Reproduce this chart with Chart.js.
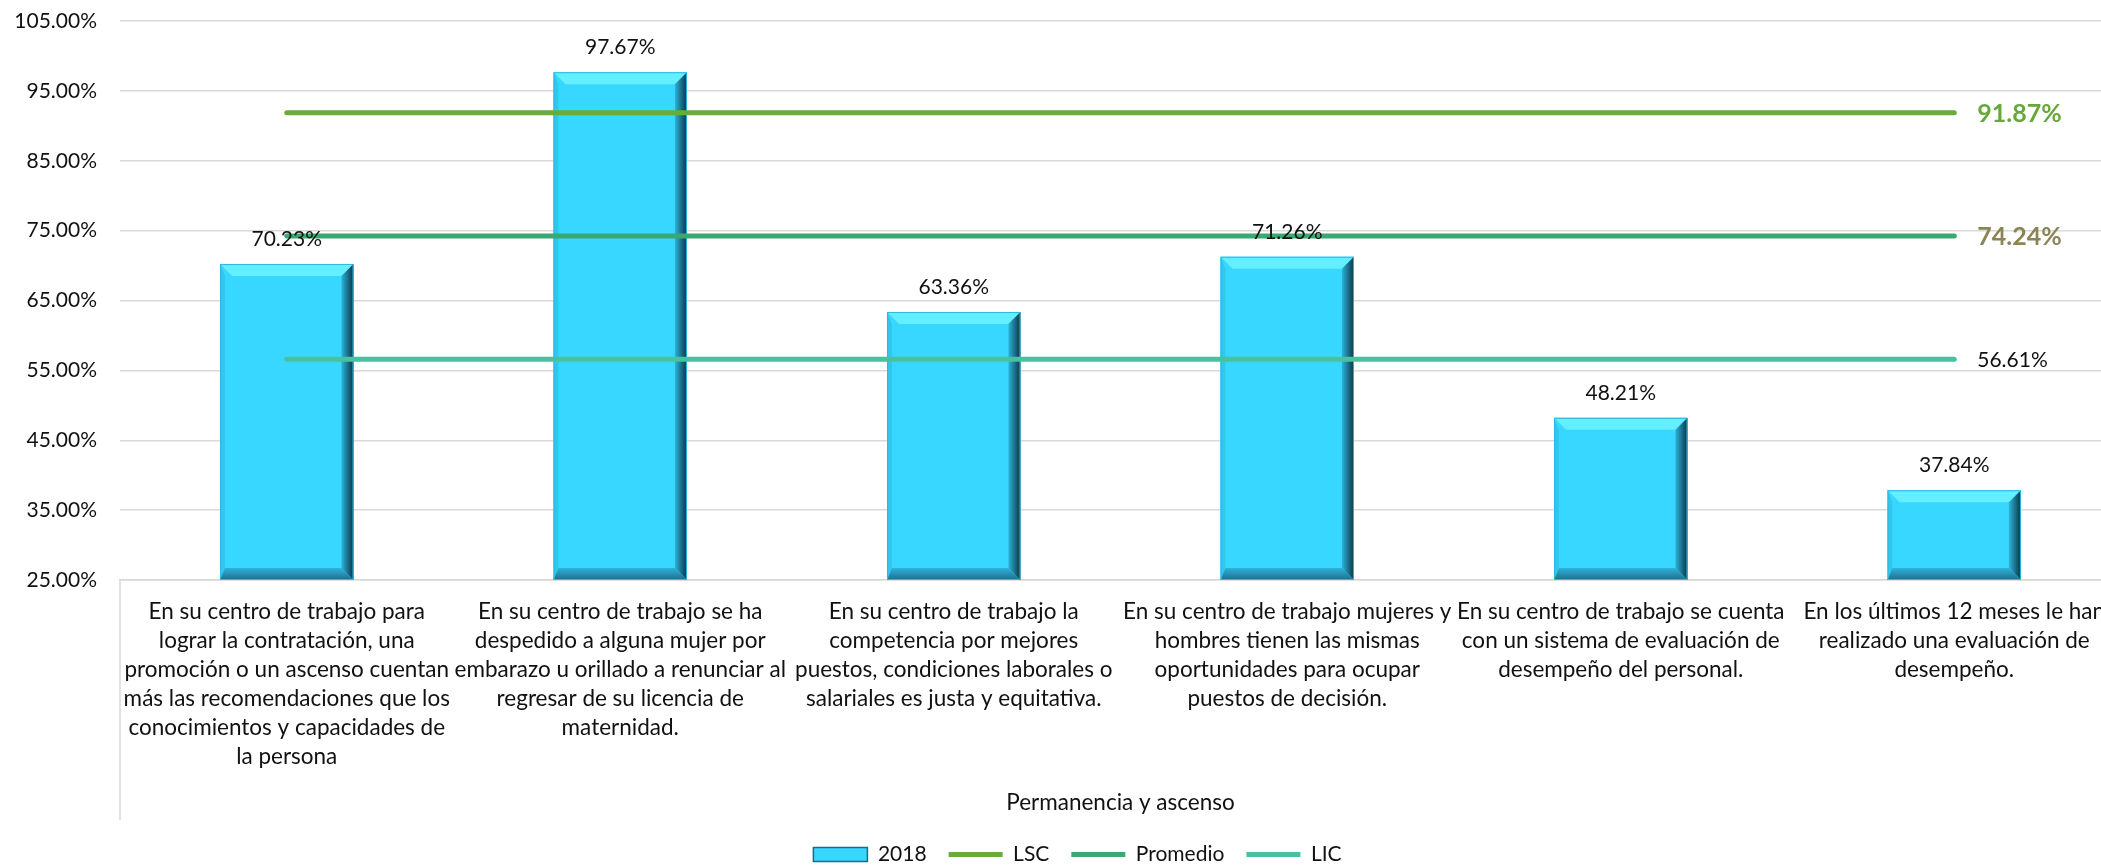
<!DOCTYPE html>
<html>
<head>
<meta charset="utf-8">
<script src="https://cdn.jsdelivr.net/npm/chart.js@4.4.0/dist/chart.umd.min.js"></script>
<style>
  html, body { margin: 0; padding: 0; background: #fff; overflow: hidden; }
  canvas { display: block; }
</style>
</head>
<body>
<canvas id="chart" width="2121" height="875"></canvas>
<script>
// --- DATA ---
const categories = [
  ['En su centro de trabajo para', 'lograr la contratación, una', 'promoción o un ascenso cuentan', 'más las recomendaciones que los', 'conocimientos y capacidades de', 'la persona'],
  ['En su centro de trabajo se ha', 'despedido a alguna mujer por', 'embarazo u orillado a renunciar al', 'regresar de su licencia de', 'maternidad.'],
  ['En su centro de trabajo la', 'competencia por mejores', 'puestos, condiciones laborales o', 'salariales es justa y equitativa.'],
  ['En su centro de trabajo mujeres y', 'hombres tienen las mismas', 'oportunidades para ocupar', 'puestos de decisión.'],
  ['En su centro de trabajo se cuenta', 'con un sistema de evaluación de', 'desempeño del personal.'],
  ['En los últimos 12 meses le han', 'realizado una evaluación de', 'desempeño.']
];
const values2018 = [70.23, 97.67, 63.36, 71.26, 48.21, 37.84];
const valuesLSC = [91.87, 91.87, 91.87, 91.87, 91.87, 91.87];
const valuesPromedio = [74.24, 74.24, 74.24, 74.24, 74.24, 74.24];
const valuesLIC = [56.61, 56.61, 56.61, 56.61, 56.61, 56.61];
const yMin = 25, yMax = 105, yStep = 10;
const axisTitle = 'Permanencia y ascenso';

// --- STYLE ---
const FONT = 'Lato, "Open Sans", sans-serif';
const TEXT = '#111';
const GRID = '#d9d9d9';
const COL_BAR = '#38d7ff';
const COL_LSC = '#6aab3a';
const COL_PROM = '#3aa872';
const COL_LIC = '#48c1a2';

const fmt = v => v.toFixed(2) + '%';

// bevel look for the bars (drawn right after the bar dataset, under the lines)
const bevelPlugin = {
  id: 'bevel',
  afterDatasetDraw(chart, args) {
    if (args.meta.type !== 'bar') return;
    const ctx = chart.ctx;
    args.meta.data.forEach(bar => {
      const l = bar.x - bar.width / 2, r = bar.x + bar.width / 2;
      const t = bar.y, b = Math.min(bar.base, chart.chartArea.bottom);
      const s = 12;
      ctx.save();
      // top
      ctx.fillStyle = '#63efff';
      ctx.beginPath();
      ctx.moveTo(l, t); ctx.lineTo(r, t); ctx.lineTo(r - s, t + s); ctx.lineTo(l + s, t + s); ctx.closePath();
      ctx.fill();
      // left
      ctx.fillStyle = '#30c6ee';
      ctx.beginPath();
      ctx.moveTo(l, t); ctx.lineTo(l + s * 0.4, t + s); ctx.lineTo(l + s * 0.4, b - s); ctx.lineTo(l, b); ctx.closePath();
      ctx.fill();
      // right
      let g = ctx.createLinearGradient(r - s, 0, r, 0);
      g.addColorStop(0, '#2bb3d9');
      g.addColorStop(1, '#0b3446');
      ctx.fillStyle = g;
      ctx.beginPath();
      ctx.moveTo(r, t); ctx.lineTo(r, b); ctx.lineTo(r - s, b - s); ctx.lineTo(r - s, t + s); ctx.closePath();
      ctx.fill();
      // bottom
      g = ctx.createLinearGradient(0, b - s, 0, b);
      g.addColorStop(0, '#2fb2da');
      g.addColorStop(1, '#1e6f8c');
      ctx.fillStyle = g;
      ctx.beginPath();
      ctx.moveTo(l, b); ctx.lineTo(r, b); ctx.lineTo(r - s, b - s); ctx.lineTo(l + s * 0.4, b - s); ctx.closePath();
      ctx.fill();
      ctx.strokeStyle = '#2ab8dd';
      ctx.lineWidth = 1;
      ctx.strokeRect(l + 0.5, t + 0.5, r - l - 1, b - t - 1);
      ctx.restore();
    });
  }
};

// value labels: above bars, and at the right end of the control lines
const labelPlugin = {
  id: 'valueLabels',
  afterDatasetsDraw(chart) {
    const ctx = chart.ctx;
    ctx.save();
    ctx.textBaseline = 'middle';
    chart.data.datasets.forEach((ds, i) => {
      const meta = chart.getDatasetMeta(i);
      if (ds.type === 'bar') {
        ctx.font = '21px ' + FONT;
        ctx.fillStyle = TEXT;
        ctx.textAlign = 'center';
        meta.data.forEach((el, j) => ctx.fillText(fmt(ds.data[j]), el.x, el.y - 25));
      } else {
        const last = meta.data[meta.data.length - 1];
        ctx.font = ds.labelFont;
        ctx.fillStyle = ds.labelColor;
        ctx.textAlign = 'left';
        ctx.fillText(fmt(ds.data[ds.data.length - 1]), last.x + 23, last.y + 1);
      }
    });
    ctx.restore();
  }
};

// category axis border running down past the labels, and legend offset
const framePlugin = {
  id: 'frame',
  afterLayout(chart) {
    const lg = chart.legend;
    lg.left += 17; lg.right += 17;
  },
  beforeDatasetsDraw(chart) {
    const { ctx, chartArea } = chart;
    ctx.save();
    ctx.strokeStyle = GRID;
    ctx.lineWidth = 1.5;
    ctx.beginPath();
    ctx.moveTo(chartArea.left, chartArea.bottom);
    ctx.lineTo(chartArea.left, 820);
    ctx.stroke();
    ctx.restore();
  }
};

const lineDs = (label, data, color, labelFont, labelColor) => ({
  type: 'line', label, data,
  borderColor: color, backgroundColor: color,
  borderWidth: 5, borderCapStyle: 'round',
  pointRadius: 0, pointHoverRadius: 0, fill: false, order: 0,
  labelFont, labelColor
});

new Chart(document.getElementById('chart'), {
  data: {
    labels: categories,
    datasets: [
      {
        type: 'bar', label: '2018', data: values2018,
        backgroundColor: COL_BAR, borderWidth: 0,
        barPercentage: 0.4, categoryPercentage: 1, order: 1
      },
      lineDs('LSC', valuesLSC, COL_LSC, 'bold 25px ' + FONT, '#66a83a'),
      lineDs('Promedio', valuesPromedio, COL_PROM, 'bold 25px ' + FONT, '#8c8456'),
      lineDs('LIC', valuesLIC, COL_LIC, '21px ' + FONT, TEXT)
    ]
  },
  options: {
    responsive: false,
    animation: false,
    layout: { padding: { top: 21, left: 0, right: 0, bottom: 0 } },
    plugins: {
      tooltip: { enabled: false },
      legend: {
        position: 'bottom',
        labels: {
          color: TEXT,
          font: { family: FONT, size: 21 },
          usePointStyle: true,
          pointStyleWidth: 54,
          boxHeight: 14,
          padding: 22,
          generateLabels(chart) {
            const items = Chart.defaults.plugins.legend.labels.generateLabels(chart);
            items.sort((a, b) => a.datasetIndex - b.datasetIndex);
            items.forEach(it => {
              if (it.datasetIndex === 0) {
                it.pointStyle = 'rect';
                it.lineWidth = 1.5;
                it.strokeStyle = '#1b6b86';
              } else {
                it.pointStyle = 'line';
              }
            });
            return items;
          }
        }
      }
    },
    scales: {
      x: {
        grid: { display: false },
        border: { display: true, color: GRID, width: 1.5 },
        ticks: {
          color: TEXT, font: { family: FONT, size: 22.5, lineHeight: 1.29 },
          maxRotation: 0, autoSkip: false, padding: 9
        },
        title: {
          display: true, text: axisTitle, color: TEXT,
          font: { family: FONT, size: 22.5 }, padding: { top: 0, bottom: 5.5 }
        },
        afterFit(scale) { scale.height = 242; scale.paddingTop = 0; scale.paddingBottom = 0; }
      },
      y: {
        min: yMin, max: yMax,
        grid: { color: GRID, lineWidth: 1.5, drawTicks: false },
        border: { display: false },
        ticks: {
          stepSize: yStep, color: TEXT, padding: 23,
          font: { family: FONT, size: 21 },
          callback: v => fmt(v)
        },
        afterFit(scale) { scale.width = 120; scale.paddingTop = 0; scale.paddingBottom = 0; }
      }
    }
  },
  plugins: [bevelPlugin, labelPlugin, framePlugin]
});
</script>
</body>
</html>
